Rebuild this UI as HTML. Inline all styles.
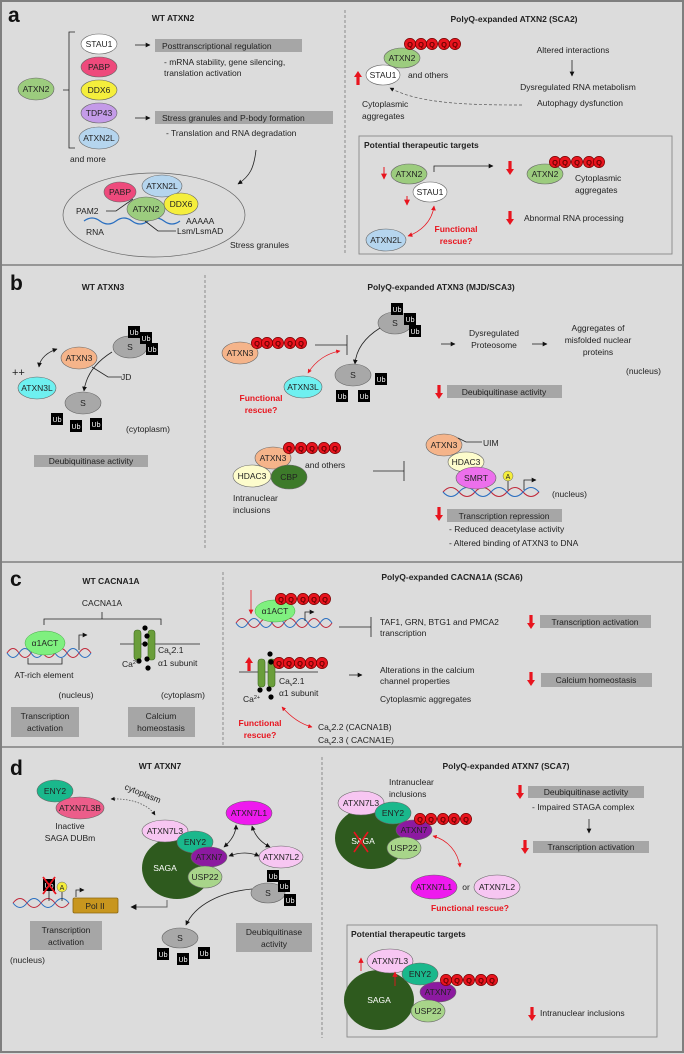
<!DOCTYPE html>
<html><head><meta charset="utf-8"><style>
html,body{margin:0;padding:0;background:#fff}
svg{display:block}
text{font-family:"Liberation Sans",Arial,sans-serif;font-size:8.5px;fill:#222}
.b{font-weight:bold}
.L{font-size:21px;font-weight:bold;fill:#111}
.c{text-anchor:middle}
.r{fill:#e8141e;font-weight:bold}
.box{fill:#a6a6a6}
.ln{stroke:#222;stroke-width:0.8;fill:none}
.q{fill:#e8141e;stroke:#7a0000;stroke-width:0.7}
.qt{font-size:7.5px;fill:#6a0000;text-anchor:middle;font-weight:bold}
.ub{fill:#000}
.ubt{font-size:7px;fill:#fff;text-anchor:middle}
.e{stroke:#666;stroke-width:0.6}
</style></head><body>
<svg width="684" height="1054" viewBox="0 0 684 1054" xmlns="http://www.w3.org/2000/svg">
<defs>
<marker id="ah" viewBox="0 0 10 10" refX="9" refY="5" markerWidth="6" markerHeight="6" orient="auto-start-reverse"><path d="M0,0L10,5L0,10z" fill="#111"/></marker>
<marker id="rh" viewBox="0 0 10 10" refX="9" refY="5" markerWidth="6" markerHeight="6" orient="auto-start-reverse"><path d="M0,0L10,5L0,10z" fill="#e8141e"/></marker>
<symbol id="Q" viewBox="-6 -6 12 12" width="12" height="12" overflow="visible"><circle r="5.6" class="q"/></symbol>
<symbol id="UP" overflow="visible"><path d="M-1.6,0V-8H-4L0,-14L4,-8H1.6V0z" fill="#e8141e"/></symbol>
<symbol id="DN" overflow="visible"><path d="M-1.6,0V8H-4L0,14L4,8H1.6V0z" fill="#e8141e"/></symbol>
</defs>
<rect x="0" y="0" width="684" height="1054" fill="#dcdcdc"/>
<rect x="1" y="1" width="682" height="1051" fill="none" stroke="#7f7f7f" stroke-width="2"/>
<line x1="0" y1="265" x2="684" y2="265" stroke="#7f7f7f" stroke-width="1.5"/>
<line x1="0" y1="562" x2="684" y2="562" stroke="#7f7f7f" stroke-width="1.5"/>
<line x1="0" y1="747" x2="684" y2="747" stroke="#7f7f7f" stroke-width="1.5"/>

<!-- ===== PANEL A ===== -->
<text x="8" y="22" class="L">a</text>
<text x="173" y="21" class="b c">WT ATXN2</text>
<path d="M75,32H69V148H75M69,90H63" class="ln"/>
<ellipse cx="36" cy="89" rx="18" ry="11" fill="#9ccc7e" class="e"/><text x="36" y="92" class="c">ATXN2</text>
<ellipse cx="99" cy="44" rx="18" ry="10" fill="#fff" class="e"/><text x="99" y="47" class="c">STAU1</text>
<ellipse cx="99" cy="67" rx="18" ry="10" fill="#ee4a7c" class="e"/><text x="99" y="70" class="c">PABP</text>
<ellipse cx="99" cy="90" rx="18" ry="10" fill="#f5ee3c" class="e"/><text x="99" y="93" class="c">DDX6</text>
<ellipse cx="99" cy="113" rx="18" ry="10" fill="#c49be8" class="e"/><text x="99" y="116" class="c">TDP43</text>
<ellipse cx="99" cy="138" rx="20" ry="11" fill="#b5d5ee" class="e"/><text x="99" y="141" class="c">ATXN2L</text>
<text x="70" y="162">and more</text>
<line x1="135" y1="45" x2="150" y2="45" class="ln" marker-end="url(#ah)"/>
<rect x="155" y="39" width="147" height="13" class="box"/><text x="162" y="49">Posttranscriptional regulation</text>
<text x="164" y="65">- mRNA stability, gene silencing,</text>
<text x="164" y="76">translation activation</text>
<line x1="135" y1="118" x2="150" y2="118" class="ln" marker-end="url(#ah)"/>
<rect x="155" y="111" width="178" height="13" class="box"/><text x="162" y="121">Stress granules and P-body formation</text>
<text x="166" y="136">- Translation and RNA degradation</text>
<path d="M256,150C254,168 250,176 238,184" class="ln" marker-end="url(#ah)"/>
<ellipse cx="154" cy="215" rx="91" ry="42" fill="none" stroke="#666" stroke-width="0.7"/>
<ellipse cx="120" cy="192" rx="16" ry="10" fill="#ee4a7c" class="e"/><text x="120" y="195" class="c">PABP</text>
<ellipse cx="162" cy="186" rx="20" ry="11" fill="#b5d5ee" class="e"/><text x="162" y="189" class="c">ATXN2L</text>
<ellipse cx="181" cy="204" rx="17" ry="11" fill="#f5ee3c" class="e"/><text x="181" y="207" class="c">DDX6</text>
<path d="M84,221q8,-6 16,0t16,0t16,0t16,0t16,0t16,0" fill="none" stroke="#2a6fc0" stroke-width="1.2"/>
<ellipse cx="146" cy="209" rx="19" ry="12" fill="#9ccc7e" class="e"/><text x="146" y="212" class="c">ATXN2</text>
<path d="M106,211H116L133,199M145,221L158,231H176" class="ln" stroke="#444"/>
<text x="76" y="214">PAM2</text><text x="86" y="235">RNA</text>
<text x="186" y="224">AAAAA</text><text x="177" y="234">Lsm/LsmAD</text>
<text x="230" y="248">Stress granules</text>

<line x1="345" y1="10" x2="345" y2="255" stroke="#777" stroke-width="0.8" stroke-dasharray="3,2"/>
<text x="514" y="22" class="b c">PolyQ-expanded ATXN2 (SCA2)</text>
<ellipse cx="402" cy="58" rx="18" ry="10" fill="#9ccc7e" class="e"/><text x="402" y="61" class="c">ATXN2</text>
<g><use href="#Q" x="404" y="38"/><use href="#Q" x="415" y="38"/><use href="#Q" x="426" y="38"/><use href="#Q" x="438" y="38"/><use href="#Q" x="449" y="38"/>
<text x="410" y="47" class="qt">Q</text><text x="421" y="47" class="qt">Q</text><text x="432" y="47" class="qt">Q</text><text x="444" y="47" class="qt">Q</text><text x="455" y="47" class="qt">Q</text></g>
<ellipse cx="383" cy="75" rx="17" ry="10" fill="#fff" class="e"/><text x="383" y="78" class="c">STAU1</text>
<use href="#UP" x="358" y="85"/>
<text x="408" y="78">and others</text>
<text x="362" y="107">Cytoplasmic</text><text x="362" y="119">aggregates</text>
<path d="M522,105C470,105 420,104 390,88" fill="none" stroke="#555" stroke-width="0.7" stroke-dasharray="3,2" marker-end="url(#ah)"/>
<text x="573" y="53" class="c">Altered interactions</text>
<line x1="572" y1="60" x2="572" y2="76" class="ln" marker-end="url(#ah)"/>
<text x="578" y="90" class="c">Dysregulated RNA metabolism</text>
<text x="580" y="106" class="c">Autophagy dysfunction</text>
<rect x="359" y="136" width="313" height="118" fill="none" stroke="#888" stroke-width="0.9"/>
<text x="364" y="148" class="b">Potential therapeutic targets</text>
<ellipse cx="409" cy="174" rx="18" ry="10" fill="#9ccc7e" class="e"/><text x="409" y="177" class="c">ATXN2</text>
<ellipse cx="430" cy="192" rx="17" ry="10" fill="#fff" class="e"/><text x="430" y="195" class="c">STAU1</text>
<path d="M384,167V179" stroke="#e8141e" stroke-width="1" marker-end="url(#rh)"/>
<path d="M407,196V205" stroke="#e8141e" stroke-width="1" marker-end="url(#rh)"/>
<path d="M434,172V166H493" class="ln" marker-end="url(#ah)"/>
<use href="#DN" x="510" y="161"/>
<ellipse cx="545" cy="174" rx="18" ry="10" fill="#9ccc7e" class="e"/><text x="545" y="177" class="c">ATXN2</text>
<g><use href="#Q" x="549" y="156"/><use href="#Q" x="559" y="156"/><use href="#Q" x="571" y="156"/><use href="#Q" x="583" y="156"/><use href="#Q" x="593" y="156"/>
<text x="555" y="165" class="qt">Q</text><text x="565" y="165" class="qt">Q</text><text x="577" y="165" class="qt">Q</text><text x="589" y="165" class="qt">Q</text><text x="599" y="165" class="qt">Q</text></g>
<text x="575" y="181">Cytoplasmic</text><text x="575" y="193">aggregates</text>
<use href="#DN" x="510" y="211"/>
<text x="524" y="221">Abnormal RNA processing</text>
<ellipse cx="386" cy="240" rx="20" ry="11" fill="#b5d5ee" class="e"/><text x="386" y="243" class="c">ATXN2L</text>
<path d="M408,236C420,232 432,222 434,206" fill="none" stroke="#e8141e" stroke-width="0.8" marker-start="url(#rh)" marker-end="url(#rh)"/>
<text x="456" y="232" class="r c">Functional</text><text x="456" y="244" class="r c">rescue?</text>

<!-- ===== PANEL B ===== -->
<text x="10" y="290" class="L">b</text>
<text x="103" y="290" class="b c">WT ATXN3</text>
<line x1="205" y1="275" x2="205" y2="550" stroke="#777" stroke-width="0.8" stroke-dasharray="3,2"/>
<text x="441" y="290" class="b c">PolyQ-expanded ATXN3 (MJD/SCA3)</text>
<ellipse cx="130" cy="347" rx="17" ry="11" fill="#a8a8a8" class="e"/><text x="130" y="350" class="c">S</text>
<g><rect x="128" y="326" width="12" height="12" class="ub"/><text x="134" y="335" class="ubt">Ub</text>
<rect x="140" y="332" width="12" height="12" class="ub"/><text x="146" y="341" class="ubt">Ub</text>
<rect x="146" y="343" width="12" height="12" class="ub"/><text x="152" y="352" class="ubt">Ub</text></g>
<ellipse cx="79" cy="358" rx="18" ry="11" fill="#f5b48a" class="e"/><text x="79" y="361" class="c">ATXN3</text>
<ellipse cx="37" cy="388" rx="19" ry="11" fill="#6ef0f0" class="e"/><text x="37" y="391" class="c">ATXN3L</text>
<text x="12" y="376" style="font-size:11px">++</text>
<path d="M39,367C40,358 48,352 57,349" class="ln" marker-start="url(#ah)" marker-end="url(#ah)"/>
<path d="M92,367L108,377H122" class="ln" stroke="#555"/><text x="121" y="380">JD</text>
<path d="M112,352C96,362 86,375 84,391" class="ln" marker-end="url(#ah)"/>
<ellipse cx="83" cy="403" rx="18" ry="11" fill="#a8a8a8" class="e"/><text x="83" y="406" class="c">S</text>
<g><rect x="51" y="413" width="12" height="12" class="ub"/><text x="57" y="422" class="ubt">Ub</text>
<rect x="70" y="420" width="12" height="12" class="ub"/><text x="76" y="429" class="ubt">Ub</text>
<rect x="90" y="418" width="12" height="12" class="ub"/><text x="96" y="427" class="ubt">Ub</text></g>
<text x="126" y="432">(cytoplasm)</text>
<rect x="34" y="455" width="114" height="12" class="box"/><text x="91" y="464" class="c">Deubiquitinase activity</text>

<ellipse cx="240" cy="353" rx="18" ry="11" fill="#f5b48a" class="e"/><text x="240" y="356" class="c">ATXN3</text>
<g><use href="#Q" x="251" y="337"/><use href="#Q" x="261" y="337"/><use href="#Q" x="272" y="337"/><use href="#Q" x="284" y="337"/><use href="#Q" x="295" y="337"/>
<text x="257" y="346" class="qt">Q</text><text x="267" y="346" class="qt">Q</text><text x="278" y="346" class="qt">Q</text><text x="290" y="346" class="qt">Q</text><text x="301" y="346" class="qt">Q</text></g>
<path d="M315,345H347M347,335V355" class="ln"/>
<ellipse cx="395" cy="323" rx="17" ry="11" fill="#a8a8a8" class="e"/><text x="395" y="326" class="c">S</text>
<g><rect x="391" y="303" width="12" height="12" class="ub"/><text x="397" y="312" class="ubt">Ub</text>
<rect x="404" y="313" width="12" height="12" class="ub"/><text x="410" y="322" class="ubt">Ub</text>
<rect x="409" y="325" width="12" height="12" class="ub"/><text x="415" y="334" class="ubt">Ub</text></g>
<path d="M380,328C364,338 356,350 355,364" class="ln" marker-end="url(#ah)"/>
<ellipse cx="353" cy="375" rx="18" ry="11" fill="#a8a8a8" class="e"/><text x="353" y="378" class="c">S</text>
<g><rect x="375" y="373" width="12" height="12" class="ub"/><text x="381" y="382" class="ubt">Ub</text>
<rect x="336" y="390" width="12" height="12" class="ub"/><text x="342" y="399" class="ubt">Ub</text>
<rect x="358" y="390" width="12" height="12" class="ub"/><text x="364" y="399" class="ubt">Ub</text></g>
<ellipse cx="303" cy="387" rx="19" ry="11" fill="#6ef0f0" class="e"/><text x="303" y="390" class="c">ATXN3L</text>
<path d="M308,373C316,360 328,353 340,351" fill="none" stroke="#e8141e" stroke-width="0.7" marker-start="url(#rh)" marker-end="url(#rh)"/>
<text x="261" y="401" class="r c">Functional</text><text x="261" y="413" class="r c">rescue?</text>
<line x1="441" y1="344" x2="455" y2="344" class="ln" marker-end="url(#ah)"/>
<text x="494" y="336" class="c">Dysregulated</text><text x="494" y="348" class="c">Proteosome</text>
<line x1="532" y1="344" x2="547" y2="344" class="ln" marker-end="url(#ah)"/>
<text x="598" y="331" class="c">Aggregates of</text><text x="598" y="343" class="c">misfolded nuclear</text><text x="598" y="355" class="c">proteins</text>
<text x="626" y="374">(nucleus)</text>
<use href="#DN" x="439" y="385"/>
<rect x="447" y="385" width="115" height="13" class="box"/><text x="504" y="395" class="c">Deubiquitinase activity</text>

<ellipse cx="273" cy="458" rx="18" ry="11" fill="#f5b48a" class="e"/><text x="273" y="461" class="c">ATXN3</text>
<g><use href="#Q" x="283" y="442"/><use href="#Q" x="295" y="442"/><use href="#Q" x="306" y="442"/><use href="#Q" x="318" y="442"/><use href="#Q" x="329" y="442"/>
<text x="289" y="451" class="qt">Q</text><text x="301" y="451" class="qt">Q</text><text x="312" y="451" class="qt">Q</text><text x="324" y="451" class="qt">Q</text><text x="335" y="451" class="qt">Q</text></g>
<ellipse cx="252" cy="476" rx="19" ry="11" fill="#fdfccc" class="e"/><text x="252" y="479" class="c">HDAC3</text>
<ellipse cx="289" cy="477" rx="18" ry="12" fill="#3d7a2a" class="e"/><text x="289" y="480" class="c">CBP</text>
<text x="305" y="468">and others</text>
<text x="233" y="501">Intranuclear</text><text x="233" y="513">inclusions</text>
<path d="M373,471H404M404,461V481" class="ln" stroke="#555"/>
<ellipse cx="444" cy="445" rx="18" ry="11" fill="#f5b48a" class="e"/><text x="444" y="448" class="c">ATXN3</text>
<path d="M458,438L466,442H482" class="ln" stroke="#555"/><text x="483" y="446">UIM</text>
<ellipse cx="466" cy="462" rx="18" ry="10" fill="#fdfccc" class="e"/><text x="466" y="465" class="c">HDAC3</text>
<path d="M443,492q8,-9 16,0t16,0t16,0t16,0t16,0t16,0" fill="none" stroke="#c0283a" stroke-width="1.1"/>
<path d="M443,492q8,9 16,0t16,0t16,0t16,0t16,0t16,0" fill="none" stroke="#2a6fc0" stroke-width="1.1"/>
<ellipse cx="476" cy="478" rx="20" ry="11" fill="#ec6fec" class="e"/><text x="476" y="481" class="c">SMRT</text>
<line x1="508" y1="481" x2="508" y2="490" class="ln"/>
<circle cx="508" cy="476" r="5" fill="#f5ee3c" stroke="#666" stroke-width="0.5"/><text x="508" y="479" class="c" style="font-size:7px">A</text>
<path d="M524,490V480H536" class="ln" marker-end="url(#ah)"/>
<text x="552" y="497">(nucleus)</text>
<use href="#DN" x="439" y="507"/>
<rect x="447" y="509" width="115" height="13" class="box"/><text x="504" y="519" class="c">Transcription repression</text>
<text x="449" y="532">- Reduced deacetylase activity</text>
<text x="449" y="546">- Altered binding of ATXN3 to DNA</text>

<!-- ===== PANEL C ===== -->
<text x="10" y="586" class="L">c</text>
<text x="111" y="584" class="b c">WT CACNA1A</text>
<line x1="223" y1="572" x2="223" y2="745" stroke="#777" stroke-width="0.8" stroke-dasharray="3,2"/>
<text x="452" y="580" class="b c">PolyQ-expanded CACNA1A (SCA6)</text>
<text x="102" y="606" class="c">CACNA1A</text>
<path d="M44,625V619H161V625M102,619V612" class="ln"/>
<path d="M7,653q6,-9 12,0t12,0t12,0t12,0t12,0t12,0t12,0" fill="none" stroke="#c0283a" stroke-width="1"/>
<path d="M7,653q6,9 12,0t12,0t12,0t12,0t12,0t12,0t12,0" fill="none" stroke="#2a6fc0" stroke-width="1"/>
<ellipse cx="45" cy="643" rx="20" ry="12" fill="#7ff07f" stroke="#4a4" stroke-width="0.5"/><text x="45" y="646" class="c">α1ACT</text>
<path d="M79,650V635H87" class="ln" marker-end="url(#ah)"/>
<path d="M28,658V664H62V658" class="ln" stroke="#555"/>
<text x="44" y="678" class="c">AT-rich element</text>
<text x="76" y="698" class="c">(nucleus)</text>
<rect x="11" y="707" width="68" height="30" class="box"/><text x="45" y="719" class="c">Transcription</text><text x="45" y="731" class="c">activation</text>
<line x1="120" y1="644" x2="200" y2="644" class="ln"/>
<rect x="134" y="630" width="7" height="30" rx="3" fill="#6a9e3a" stroke="#3f6a20" stroke-width="0.6"/>
<rect x="148" y="630" width="7" height="30" rx="3" fill="#6a9e3a" stroke="#3f6a20" stroke-width="0.6"/>
<g fill="#000"><circle cx="145" cy="628" r="2.6"/><circle cx="147" cy="636" r="2.6"/><circle cx="145" cy="644" r="2.6"/><circle cx="139" cy="661" r="2.6"/><circle cx="147" cy="659" r="2.6"/><circle cx="148" cy="668" r="2.6"/></g>
<text x="158" y="653">Ca<tspan dy="2" style="font-size:5.5px">v</tspan><tspan dy="-2">2.1</tspan></text>
<text x="158" y="666">α1 subunit</text>
<text x="122" y="667">Ca<tspan dy="-3" style="font-size:5.5px">2+</tspan></text>
<text x="183" y="698" class="c">(cytoplasm)</text>
<rect x="128" y="707" width="67" height="30" class="box"/><text x="161" y="719" class="c">Calcium</text><text x="161" y="731" class="c">homeostasis</text>

<path d="M236,623q6,-9 12,0t12,0t12,0t12,0t12,0t12,0t12,0t12,0" fill="none" stroke="#c0283a" stroke-width="1"/>
<path d="M236,623q6,9 12,0t12,0t12,0t12,0t12,0t12,0t12,0t12,0" fill="none" stroke="#2a6fc0" stroke-width="1"/>
<ellipse cx="275" cy="611" rx="20" ry="11" fill="#7ff07f" stroke="#4a4" stroke-width="0.5"/><text x="275" y="614" class="c">α1ACT</text>
<g><use href="#Q" x="275" y="593"/><use href="#Q" x="285" y="593"/><use href="#Q" x="297" y="593"/><use href="#Q" x="308" y="593"/><use href="#Q" x="319" y="593"/>
<text x="281" y="602" class="qt">Q</text><text x="291" y="602" class="qt">Q</text><text x="303" y="602" class="qt">Q</text><text x="314" y="602" class="qt">Q</text><text x="325" y="602" class="qt">Q</text></g>
<path d="M251,590V614" stroke="#e8141e" stroke-width="0.8" marker-end="url(#rh)"/>
<path d="M305,621V612H314" class="ln" marker-end="url(#ah)"/>
<path d="M339,627H371M371,617V637" class="ln" stroke="#555"/>
<text x="380" y="625">TAF1, GRN, BTG1 and PMCA2</text><text x="380" y="636">transcription</text>
<use href="#DN" x="531" y="615"/>
<rect x="540" y="615" width="111" height="13" class="box"/><text x="595" y="625" class="c">Transcription activation</text>
<line x1="239" y1="672" x2="318" y2="672" class="ln"/>
<use href="#UP" x="249" y="671"/>
<rect x="258" y="659" width="7" height="28" rx="3" fill="#6a9e3a" stroke="#3f6a20" stroke-width="0.6"/>
<rect x="268" y="659" width="7" height="28" rx="3" fill="#6a9e3a" stroke="#3f6a20" stroke-width="0.6"/>
<g><use href="#Q" x="273" y="657"/><use href="#Q" x="283" y="657"/><use href="#Q" x="294" y="657"/><use href="#Q" x="305" y="657"/><use href="#Q" x="316" y="657"/>
<text x="279" y="666" class="qt">Q</text><text x="289" y="666" class="qt">Q</text><text x="300" y="666" class="qt">Q</text><text x="311" y="666" class="qt">Q</text><text x="322" y="666" class="qt">Q</text></g>
<g fill="#000"><circle cx="270" cy="654" r="2.6"/><circle cx="271" cy="662" r="2.6"/><circle cx="260" cy="690" r="2.6"/><circle cx="269" cy="689" r="2.6"/><circle cx="271" cy="697" r="2.6"/></g>
<text x="279" y="684">Ca<tspan dy="2" style="font-size:5.5px">v</tspan><tspan dy="-2">2.1</tspan></text>
<text x="279" y="696">α1 subunit</text>
<text x="243" y="702">Ca<tspan dy="-3" style="font-size:5.5px">2+</tspan></text>
<line x1="349" y1="675" x2="362" y2="675" class="ln" marker-end="url(#ah)"/>
<text x="380" y="673">Alterations in the calcium</text><text x="380" y="684">channel properties</text>
<text x="380" y="702">Cytoplasmic aggregates</text>
<use href="#DN" x="531" y="672"/>
<rect x="541" y="673" width="111" height="14" class="box"/><text x="596" y="683" class="c">Calcium homeostasis</text>
<path d="M282,707C290,716 300,724 312,727" fill="none" stroke="#e8141e" stroke-width="0.7" marker-start="url(#rh)" marker-end="url(#rh)"/>
<text x="260" y="726" class="r c">Functional</text><text x="260" y="738" class="r c">rescue?</text>
<text x="318" y="730">Ca<tspan dy="2" style="font-size:5.5px">v</tspan><tspan dy="-2">2.2 (CACNA1B)</tspan></text>
<text x="318" y="743">Ca<tspan dy="2" style="font-size:5.5px">v</tspan><tspan dy="-2">2.3 ( CACNA1E)</tspan></text>

<!-- ===== PANEL D ===== -->
<text x="10" y="775" class="L">d</text>
<text x="160" y="769" class="b c">WT ATXN7</text>
<line x1="322" y1="757" x2="322" y2="1038" stroke="#777" stroke-width="0.8" stroke-dasharray="3,2"/>
<text x="506" y="769" class="b c">PolyQ-expanded ATXN7 (SCA7)</text>
<ellipse cx="55" cy="791" rx="18" ry="11" fill="#1ab88c" class="e"/><text x="55" y="794" class="c">ENY2</text>
<ellipse cx="80" cy="808" rx="24" ry="11" fill="#ec5d8a" class="e"/><text x="80" y="811" class="c">ATXN7L3B</text>
<text x="70" y="829" class="c">Inactive</text><text x="70" y="841" class="c">SAGA DUBm</text>
<text x="124" y="789" transform="rotate(22 124 789)">cytoplasm</text>
<path d="M111,799C130,798 148,804 155,815" fill="none" stroke="#444" stroke-width="0.7" stroke-dasharray="1.5,1.5" marker-start="url(#ah)" marker-end="url(#ah)"/>
<ellipse cx="177" cy="868" rx="35" ry="31" fill="#2e5a1e"/>
<text x="165" y="871" class="c" style="fill:#fff">SAGA</text>
<ellipse cx="165" cy="831" rx="23" ry="11" fill="#f7c6f2" class="e"/><text x="165" y="834" class="c">ATXN7L3</text>
<ellipse cx="195" cy="842" rx="18" ry="11" fill="#1ab88c" class="e"/><text x="195" y="845" class="c">ENY2</text>
<ellipse cx="209" cy="857" rx="18" ry="10" fill="#8c1aa0" class="e"/><text x="209" y="860" class="c">ATXN7</text>
<ellipse cx="205" cy="877" rx="17" ry="11" fill="#a8d58a" class="e"/><text x="205" y="880" class="c">USP22</text>
<ellipse cx="249" cy="813" rx="23" ry="12" fill="#ee1aee" class="e"/><text x="249" y="816" class="c">ATXN7L1</text>
<ellipse cx="281" cy="857" rx="22" ry="11" fill="#f7c6f2" class="e"/><text x="281" y="860" class="c">ATXN7L2</text>
<path d="M224,847C232,840 236,833 236,825" class="ln" marker-start="url(#ah)" marker-end="url(#ah)"/>
<path d="M252,826C255,836 262,843 270,847" class="ln" marker-start="url(#ah)" marker-end="url(#ah)"/>
<path d="M229,856C240,852 250,852 259,856" class="ln" marker-start="url(#ah)" marker-end="url(#ah)"/>
<ellipse cx="268" cy="893" rx="17" ry="10" fill="#a8a8a8" class="e"/><text x="268" y="896" class="c">S</text>
<g><rect x="267" y="870" width="12" height="12" class="ub"/><text x="273" y="879" class="ubt">Ub</text>
<rect x="278" y="880" width="12" height="12" class="ub"/><text x="284" y="889" class="ubt">Ub</text>
<rect x="284" y="894" width="12" height="12" class="ub"/><text x="290" y="903" class="ubt">Ub</text></g>
<path d="M252,889C220,892 195,905 186,925" class="ln" marker-end="url(#ah)"/>
<ellipse cx="180" cy="938" rx="18" ry="10" fill="#a8a8a8" class="e"/><text x="180" y="941" class="c">S</text>
<g><rect x="157" y="948" width="12" height="12" class="ub"/><text x="163" y="957" class="ubt">Ub</text>
<rect x="177" y="953" width="12" height="12" class="ub"/><text x="183" y="962" class="ubt">Ub</text>
<rect x="198" y="947" width="12" height="12" class="ub"/><text x="204" y="956" class="ubt">Ub</text></g>
<path d="M13,903q7,-9 14,0t14,0t14,0t14,0" fill="none" stroke="#c0283a" stroke-width="1"/>
<path d="M13,903q7,9 14,0t14,0t14,0t14,0" fill="none" stroke="#2a6fc0" stroke-width="1"/>
<rect x="73" y="898" width="45" height="15" rx="1.5" fill="#c8961e" stroke="#8a6510" stroke-width="0.8"/><text x="95" y="909" class="c">Pol II</text>
<line x1="49" y1="890" x2="49" y2="901" class="ln"/><line x1="62" y1="892" x2="62" y2="901" class="ln"/>
<rect x="43" y="879" width="12" height="12" class="ub"/><text x="49" y="888" class="ubt">Ub</text>
<path d="M43,877L56,894M55,877L43,894" stroke="#e8141e" stroke-width="1.8"/>
<circle cx="62" cy="887" r="5" fill="#f5ee3c" stroke="#666" stroke-width="0.5"/><text x="62" y="890" class="c" style="font-size:7px">A</text>
<path d="M76,897V890H84" class="ln" marker-end="url(#ah)"/>
<path d="M167,900V907H131" fill="none" stroke="#666" stroke-width="1" marker-end="url(#ah)"/>
<rect x="30" y="921" width="72" height="29" class="box"/><text x="66" y="933" class="c">Transcription</text><text x="66" y="945" class="c">activation</text>
<text x="10" y="963">(nucleus)</text>
<rect x="236" y="923" width="76" height="29" class="box"/><text x="274" y="935" class="c">Deubiquitinase</text><text x="274" y="947" class="c">activity</text>

<text x="389" y="785">Intranuclear</text><text x="389" y="797">inclusions</text>
<ellipse cx="371" cy="838" rx="36" ry="31" fill="#2e5a1e"/>
<text x="363" y="844" class="c" style="fill:#fff">SAGA</text>
<path d="M354,832L368,852M368,832L354,852" stroke="#e8141e" stroke-width="1.6"/>
<ellipse cx="361" cy="803" rx="23" ry="12" fill="#f7c6f2" class="e"/><text x="361" y="806" class="c">ATXN7L3</text>
<ellipse cx="393" cy="813" rx="18" ry="11" fill="#1ab88c" class="e"/><text x="393" y="816" class="c">ENY2</text>
<ellipse cx="414" cy="830" rx="18" ry="10" fill="#8c1aa0" class="e"/><text x="414" y="833" class="c">ATXN7</text>
<ellipse cx="404" cy="848" rx="17" ry="11" fill="#a8d58a" class="e"/><text x="404" y="851" class="c">USP22</text>
<g><use href="#Q" x="414" y="813"/><use href="#Q" x="425" y="813"/><use href="#Q" x="437" y="813"/><use href="#Q" x="448" y="813"/><use href="#Q" x="460" y="813"/>
<text x="420" y="822" class="qt">Q</text><text x="431" y="822" class="qt">Q</text><text x="443" y="822" class="qt">Q</text><text x="454" y="822" class="qt">Q</text><text x="466" y="822" class="qt">Q</text></g>
<path d="M433,836C448,840 458,852 460,867" fill="none" stroke="#e8141e" stroke-width="0.7" marker-start="url(#rh)" marker-end="url(#rh)"/>
<ellipse cx="434" cy="887" rx="23" ry="12" fill="#ee1aee" class="e"/><text x="434" y="890" class="c">ATXN7L1</text>
<text x="466" y="890" class="c b" style="font-weight:normal">or</text>
<ellipse cx="497" cy="887" rx="23" ry="12" fill="#f7c6f2" class="e"/><text x="497" y="890" class="c">ATXN7L2</text>
<text x="470" y="911" class="r c">Functional rescue?</text>
<use href="#DN" x="520" y="785"/>
<rect x="528" y="786" width="116" height="12" class="box"/><text x="586" y="795" class="c">Deubiquitinase activity</text>
<text x="532" y="810">- Impaired STAGA complex</text>
<line x1="589" y1="819" x2="589" y2="833" class="ln" marker-end="url(#ah)"/>
<use href="#DN" x="525" y="840"/>
<rect x="533" y="841" width="116" height="12" class="box"/><text x="591" y="850" class="c">Transcription activation</text>
<rect x="347" y="925" width="310" height="112" fill="none" stroke="#888" stroke-width="0.9"/>
<text x="351" y="937" class="b">Potential therapeutic targets</text>
<ellipse cx="379" cy="1000" rx="35" ry="30" fill="#2e5a1e"/>
<text x="379" y="1003" class="c" style="fill:#fff">SAGA</text>
<ellipse cx="390" cy="961" rx="23" ry="12" fill="#f7c6f2" class="e"/><text x="390" y="964" class="c">ATXN7L3</text>
<ellipse cx="420" cy="974" rx="18" ry="11" fill="#1ab88c" class="e"/><text x="420" y="977" class="c">ENY2</text>
<ellipse cx="438" cy="992" rx="18" ry="10" fill="#8c1aa0" class="e"/><text x="438" y="995" class="c">ATXN7</text>
<ellipse cx="428" cy="1011" rx="17" ry="11" fill="#a8d58a" class="e"/><text x="428" y="1014" class="c">USP22</text>
<g><use href="#Q" x="440" y="974"/><use href="#Q" x="451" y="974"/><use href="#Q" x="463" y="974"/><use href="#Q" x="475" y="974"/><use href="#Q" x="486" y="974"/>
<text x="446" y="983" class="qt">Q</text><text x="457" y="983" class="qt">Q</text><text x="469" y="983" class="qt">Q</text><text x="481" y="983" class="qt">Q</text><text x="492" y="983" class="qt">Q</text></g>
<path d="M361,971V958" stroke="#e8141e" stroke-width="0.9" marker-end="url(#rh)"/>
<path d="M395,986V972" stroke="#e8141e" stroke-width="0.9" marker-end="url(#rh)"/>
<use href="#DN" x="532" y="1007"/>
<text x="540" y="1016">Intranuclear inclusions</text>
</svg>
</body></html>
